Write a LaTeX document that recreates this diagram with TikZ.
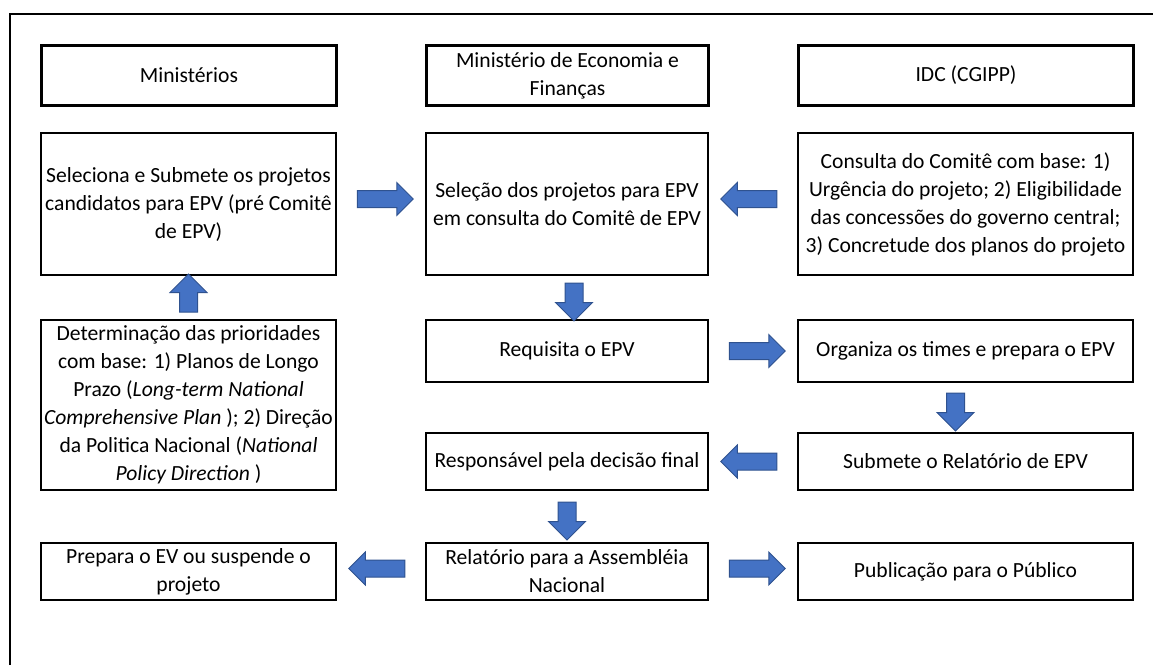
\documentclass[tikz,border=0pt]{standalone}
\usepackage{fontspec}
\setmainfont{Carlito}
\usetikzlibrary{shapes.arrows, positioning}
\definecolor{arrowblue}{HTML}{4472C4}
\definecolor{arrowline}{HTML}{2F528F}
\tikzset{
x=0.5pt, y=-0.5pt, % one unit is one pixel of the sketch, y runs down
every node/.style={font=\fontsize{10.8}{14}\selectfont, align=center},
box/.style={draw, line width=1pt, inner sep=1pt, anchor=north west}, % the step boxes
head/.style={box, line width=1.5pt}, % the three column titles
harrow/.style={single arrow, draw=arrowline, fill=arrowblue, line width=0.5pt,
  inner sep=4pt, single arrow head extend=4pt, minimum height=28pt,
  sloped, allow upside down}, % the block arrows between columns
varrow/.style={harrow, inner sep=4.25pt, single arrow head extend=4.75pt, minimum height=19pt}, % the block arrows between rows
}

\begin{document}
\begin{tikzpicture}
\useasboundingbox (0,0) rectangle (1153,665);
\draw[line width=1pt] (10,665) -- (10,14) -- (1153,14);

% column titles
\node[head, minimum width=147.5pt, minimum height=30pt] (min) at (40,44) {Ministérios};
\node[head, minimum width=141pt, minimum height=30pt] (mef) at (425,44) {Ministério de Economia e\\Finanças};
\node[head, minimum width=167.5pt, minimum height=30pt] (idc) at (797,44) {IDC (CGIPP)};

% selection
\node[box, minimum width=147.5pt, minimum height=71pt] (sub) at (40,132) {Seleciona e Submete os projetos\\candidatos para EPV (pré Comitê\\de EPV)};
\node[box, minimum width=141pt, minimum height=71pt] (sel) at (425,132) {Seleção dos projetos para EPV\\em consulta do Comitê de EPV};
\node[box, minimum width=167.5pt, minimum height=71pt] (con) at (797,132) {Consulta do Comitê com base: 1)\\Urgência do projeto; 2) Eligibilidade\\das concessões do governo central;\\3) Concretude dos planos do projeto};

% study
\node[box, minimum width=147.5pt, minimum height=85pt] (det) at (40,319) {Determinação das prioridades\\com base: 1) Planos de Longo\\Prazo (\textit{Long-term National}\\\textit{Comprehensive Plan} ); 2) Direção\\da Politica Nacional (\textit{National}\\\textit{Policy Direction} )};
\node[box, minimum width=141pt, minimum height=31pt] (req) at (425,319) {Requisita o EPV};
\node[box, minimum width=167.5pt, minimum height=31pt] (org) at (797,319) {Organiza os times e prepara o EPV};

% decision
\node[box, minimum width=141pt, minimum height=28.5pt] (res) at (425,432) {Responsável pela decisão final};
\node[box, minimum width=167.5pt, minimum height=28.5pt] (srel) at (797,432) {Submete o Relatório de EPV};

% report
\node[box, minimum width=147.5pt, minimum height=28.5pt] (prep) at (40,542) {Prepara o EV ou suspende o\\projeto};
\node[box, minimum width=141pt, minimum height=28.5pt] (ass) at (425,542) {Relatório para a Assembléia\\Nacional};
\node[box, minimum width=167.5pt, minimum height=28.5pt] (pub) at (797,542) {Publicação para o Público};

\path ([yshift=2.5pt]sub.east) -- node[harrow] {} ([yshift=2.5pt]sel.west);
\path ([yshift=2.5pt]con.west) -- node[harrow] {} ([yshift=2.5pt]sel.east);
\path (det.north) -- node[varrow] {} (sub.south);
\path ([xshift=3.5pt]sel.south) -- node[varrow] {} ([xshift=3.5pt]req.north);
\path (req.east) -- node[harrow] {} (org.west);
\path ([xshift=-5pt]org.south) -- node[varrow] {} ([xshift=-5pt]srel.north);
\path (srel.west) -- node[harrow] {} (res.east);
\path (res.south) -- node[varrow] {} (ass.north);
\path ([yshift=1.5pt]ass.west) -- node[harrow] {} ([yshift=1.5pt]prep.east);
\path ([yshift=1.5pt]ass.east) -- node[harrow] {} ([yshift=1.5pt]pub.west);
\end{tikzpicture}
\end{document}
